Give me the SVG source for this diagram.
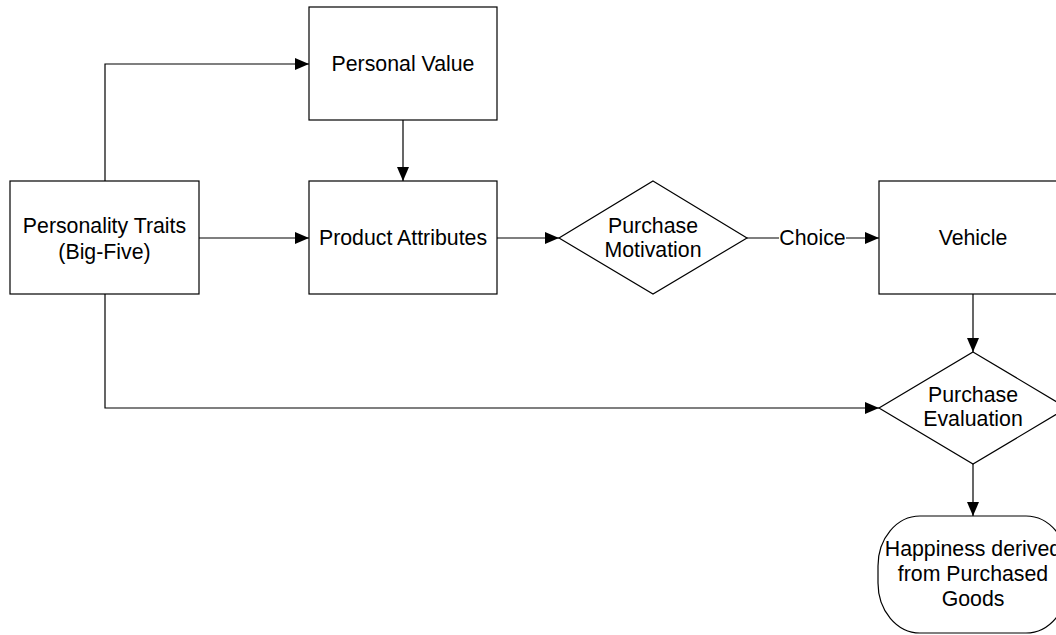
<svg xmlns="http://www.w3.org/2000/svg" width="1056" height="635" viewBox="0 0 1056 635">
<defs>
<style>
.n{fill:#fff;stroke:#000;stroke-width:1.2}
.t{font-family:"Liberation Sans",Arial,sans-serif;font-size:21.3px;fill:#000;text-anchor:middle}
.c{fill:none;stroke:#000;stroke-width:1.2}
</style>
<marker id="a" markerWidth="14" markerHeight="12" refX="14" refY="6" orient="auto" markerUnits="userSpaceOnUse">
<path d="M0,0 L14,6 L0,12 Z" fill="#000"/>
</marker>
</defs>
<rect width="1056" height="635" fill="#fff"/>
<g id="connectors">
<path class="c" d="M105,181 V64 H309" marker-end="url(#a)"/>
<path class="c" d="M199,238 H309" marker-end="url(#a)"/>
<path class="c" d="M105,294 V408 H879" marker-end="url(#a)"/>
<path class="c" d="M403,120 V181" marker-end="url(#a)"/>
<path class="c" d="M497,238 H559" marker-end="url(#a)"/>
<path class="c" d="M747,238 H879" marker-end="url(#a)"/>
<path class="c" d="M973,294 V352" marker-end="url(#a)"/>
<path class="c" d="M973,464 V516" marker-end="url(#a)"/>
<rect x="779" y="226" width="67" height="24" fill="#fff"/>
<text class="t" x="812.5" y="245">Choice</text>
</g>
<g id="personality">
<rect class="n" x="10" y="181" width="189" height="113"/>
<text class="t" x="104.5" y="233">Personality Traits</text>
<text class="t" x="104.5" y="259">(Big-Five)</text>
</g>
<g id="personal-value">
<rect class="n" x="309" y="7" width="188" height="113"/>
<text class="t" x="403" y="71">Personal Value</text>
</g>
<g id="product-attributes">
<rect class="n" x="309" y="181" width="188" height="113"/>
<text class="t" x="403" y="245">Product Attributes</text>
</g>
<g id="purchase-motivation">
<polygon class="n" points="653,181 747,238 653,294 559,238"/>
<text class="t" x="653" y="233">Purchase</text>
<text class="t" x="653" y="257">Motivation</text>
</g>
<g id="vehicle">
<rect class="n" x="879" y="181" width="189" height="113"/>
<text class="t" x="973" y="245">Vehicle</text>
</g>
<g id="purchase-evaluation">
<polygon class="n" points="973,352 1067,408 973,464 879,408"/>
<text class="t" x="973" y="402">Purchase</text>
<text class="t" x="973" y="426">Evaluation</text>
</g>
<g id="happiness">
<rect class="n" x="878" y="516" width="190" height="117" rx="42" ry="50"/>
<text class="t" x="973" y="556">Happiness derived</text>
<text class="t" x="973" y="581">from Purchased</text>
<text class="t" x="973" y="606">Goods</text>
</g>
</svg>
